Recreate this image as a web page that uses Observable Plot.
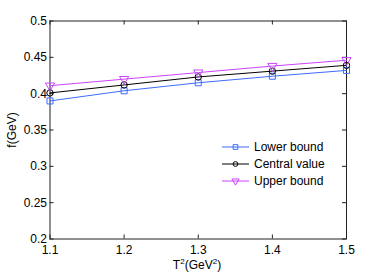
<!DOCTYPE html>
<html><head><meta charset="utf-8">
<script src="https://cdn.jsdelivr.net/npm/d3@7"></script>
<script src="https://cdn.jsdelivr.net/npm/@observablehq/plot@0.6"></script>
<style>
body{margin:0;background:#fff;}
#wrap{position:relative;width:382px;height:273px;font-family:"Liberation Sans",Arial,sans-serif;}
#legend{position:absolute;left:221px;top:139px;font-size:12px;color:#000;}
#legend .row{height:16.7px;display:flex;align-items:center;}
#legend svg{margin-right:4px;}
</style></head>
<body><div id="wrap"><div id="chart"></div><div id="legend"></div></div>
<script>
const T2 = [1.1, 1.2, 1.3, 1.4, 1.5];
const lower = [0.390, 0.404, 0.415, 0.424, 0.432];
const central = [0.401, 0.412, 0.423, 0.431, 0.439];
const upper = [0.411, 0.420, 0.429, 0.438, 0.446];
const seriesNames = ["Lower bound", "Central value", "Upper bound"];
const seriesColors = ["#3d6bff", "#000000", "#cc44ff"];
const seriesSymbols = ["square", "circle", "triangle"];
const xTicks = [1.1, 1.2, 1.3, 1.4, 1.5];
const yTicks = [0.2, 0.25, 0.3, 0.35, 0.4, 0.45, 0.5];

const vals = [lower, central, upper];
const data = [];
vals.forEach((arr, s) => arr.forEach((v, i) => data.push({x: T2[i], y: v, s: seriesNames[s]})));

const marks = [];
marks.push(Plot.frame({stroke: "#222", strokeWidth: 1}));
// inward ticks
marks.push(Plot.ruleX(xTicks, {x: d => d, y1: 0.2, y2: 0.2055, stroke: "#222"}));
marks.push(Plot.ruleX(xTicks, {x: d => d, y1: 0.5, y2: 0.4945, stroke: "#222"}));
marks.push(Plot.ruleY(yTicks, {y: d => d, x1: 1.1, x2: 1.1054, stroke: "#222"}));
marks.push(Plot.ruleY(yTicks, {y: d => d, x1: 1.5, x2: 1.4946, stroke: "#222"}));
seriesNames.forEach((name, s) => {
  const sub = data.filter(d => d.s === name);
  marks.push(Plot.line(sub, {x: "x", y: "y", stroke: seriesColors[s], strokeWidth: 1}));
  marks.push(Plot.dot(sub, {x: "x", y: "y", stroke: seriesColors[s], fill: "none",
    symbol: seriesSymbols[s], r: s === 1 ? 3.2 : 3.4, strokeWidth: 1, rotate: s === 2 ? 180 : 0}));
});
marks.push(Plot.axisX(xTicks, {tickSize: 0, tickPadding: 6, fontSize: 12, tickFormat: d => d.toFixed(1), label: null}));
marks.push(Plot.axisY(yTicks, {tickSize: 0, tickPadding: 3, fontSize: 12, tickFormat: d => String(d), label: null}));

const chart = Plot.plot({
  width: 382, height: 273,
  marginLeft: 49.5, marginRight: 36, marginTop: 20.5, marginBottom: 34.5,
  style: {fontFamily: '"Liberation Sans", Arial, sans-serif', fontSize: "12px", color: "#000", background: "#fff"},
  x: {domain: [1.1, 1.5]},
  y: {domain: [0.2, 0.5]},
  marks
});
const svg = d3.select(chart);
svg.append("text").attr("transform", "translate(16,130) rotate(-90)").attr("text-anchor", "middle")
  .attr("font-size", 12).attr("fill", "#000").text("f(GeV)");
const xl = svg.append("text").attr("x", 197).attr("y", 269).attr("text-anchor", "middle").attr("font-size", 12).attr("fill", "#000");
xl.append("tspan").text("T");
xl.append("tspan").attr("font-size", 8).attr("dy", -5).text("2");
xl.append("tspan").attr("dy", 5).text("(GeV");
xl.append("tspan").attr("font-size", 8).attr("dy", -5).text("2");
xl.append("tspan").attr("dy", 5).text(")");
document.getElementById("chart").appendChild(chart);

const leg = d3.select("#legend");
seriesNames.forEach((name, s) => {
  const row = leg.append("div").attr("class", "row");
  const sv = row.append("svg").attr("width", 29).attr("height", 10);
  sv.append("line").attr("x1", 1).attr("x2", 28).attr("y1", 5).attr("y2", 5).attr("stroke", seriesColors[s]);
  const sym = d3.symbol(s === 0 ? d3.symbolSquare : s === 1 ? d3.symbolCircle : d3.symbolTriangle, s === 1 ? 18 : 22)();
  sv.append("path").attr("d", sym).attr("transform", `translate(14.5,5) rotate(${s === 2 ? 180 : 0})`)
    .attr("fill", "none").attr("stroke", seriesColors[s]);
  row.append("span").text(name);
});
</script></body></html>
